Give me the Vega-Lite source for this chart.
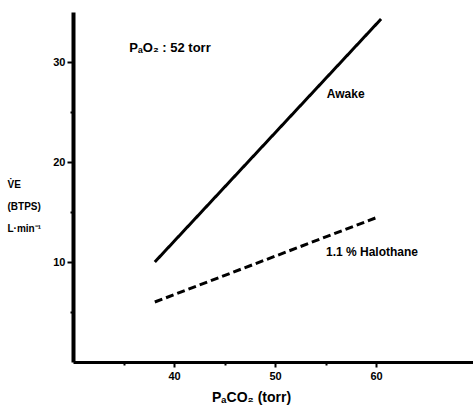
{
  "$schema": "https://vega.github.io/schema/vega-lite/v6.json",
  "width": 400,
  "height": 350,
  "autosize": {"type": "none"},
  "padding": {"left": 73, "top": 12, "right": 0, "bottom": 44},
  "background": "white",
  "config": {"view": {"stroke": null}, "font": "Liberation Sans"},
  "datasets": {
    "lines": [
      {"series": "Awake", "pco2": 38.1, "ve": 10.0},
      {"series": "Awake", "pco2": 60.5, "ve": 34.3},
      {"series": "1.1 % Halothane", "pco2": 38.1, "ve": 6.0},
      {"series": "1.1 % Halothane", "pco2": 60.2, "ve": 14.5}
    ],
    "labels": [
      {"label": "PₐO₂ : 52 torr", "pco2": 39.6, "ve": 31.4, "size": 13},
      {"label": "Awake", "pco2": 57.0, "ve": 26.8, "size": 12},
      {"label": "1.1 % Halothane", "pco2": 59.6, "ve": 11.0, "size": 12}
    ]
  },
  "layer": [
    {
      "data": {"name": "lines"},
      "mark": {"type": "line", "color": "black", "strokeWidth": 3, "clip": false},
      "encoding": {
        "x": {
          "field": "pco2", "type": "quantitative",
          "scale": {"domain": [30, 69.6], "nice": false, "zero": false},
          "axis": {
            "values": [35, 40, 45, 50, 55, 60],
            "labelExpr": "datum.value % 10 === 0 ? datum.label : ''",
            "grid": false,
            "domainColor": "black", "domainWidth": 3,
            "tickColor": "black", "tickWidth": 2,
            "tickSize": {"condition": {"test": "datum.value % 10 === 0", "value": 5}, "value": 3},
            "labelFont": "Liberation Sans", "labelFontWeight": "bold", "labelFontSize": 11, "labelColor": "black",
            "labelPadding": 3,
            "title": "PₐCO₂  (torr)",
            "titleFont": "Liberation Sans", "titleFontWeight": "bold", "titleFontSize": 14, "titleColor": "black",
            "titleX": 178, "titleY": 35, "titleAlign": "center", "titleBaseline": "middle"
          }
        },
        "y": {
          "field": "ve", "type": "quantitative",
          "scale": {"domain": [0, 35], "nice": false},
          "axis": {
            "values": [5, 10, 15, 20, 25, 30],
            "labelExpr": "datum.value % 10 === 0 ? datum.label : ''",
            "grid": false,
            "domainColor": "black", "domainWidth": 4,
            "tickColor": "black", "tickWidth": 2,
            "tickSize": {"condition": {"test": "datum.value % 10 === 0", "value": 6}, "value": 3},
            "labelFont": "Liberation Sans", "labelFontWeight": "bold", "labelFontSize": 11, "labelColor": "black",
            "labelPadding": 2,
            "title": ["V̇E", "(BTPS)", "L·min⁻¹"],
            "titleAngle": 0,
            "titleFont": "Liberation Sans", "titleFontWeight": "bold", "titleFontSize": 10, "titleColor": "black",
            "titleLineHeight": 22,
            "titleX": -66, "titleY": 172, "titleAlign": "left", "titleBaseline": "middle"
          }
        },
        "detail": {"field": "series"},
        "strokeDash": {
          "field": "series", "type": "nominal",
          "scale": {"domain": ["Awake", "1.1 % Halothane"], "range": [[1, 0], [8, 4]]},
          "legend": null
        }
      }
    },
    {
      "data": {"name": "labels"},
      "mark": {"type": "text", "font": "Liberation Sans", "fontWeight": "bold", "color": "black", "align": "center", "baseline": "middle"},
      "encoding": {
        "x": {"field": "pco2", "type": "quantitative"},
        "y": {"field": "ve", "type": "quantitative"},
        "text": {"field": "label"},
        "size": {"field": "size", "type": "quantitative", "scale": null}
      }
    }
  ]
}
